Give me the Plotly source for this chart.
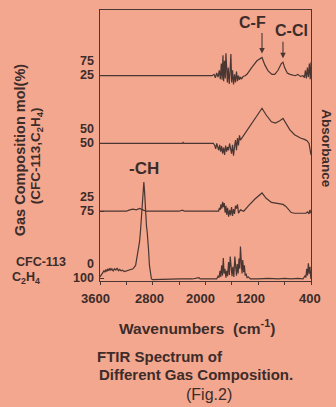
import plotly.graph_objects as go

# ---------------- data ----------------
# composition labels (CFC-113 %, C2H4 %) for each spectrum, top to bottom
cfc113_pct = ["75", "50", "25", "0"]
c2h4_pct = ["25", "50", "75", "100"]

x_ticks = [3600, 2800, 2000, 1200, 400]

# spectrum 1: CFC-113 75 / C2H4 25
wn_1 = [3600, 2300, 2250, 2200, 1900, 1870, 1850, 1830, 1810, 1790, 1775, 1760, 1748, 1735, 1725,
        1712, 1700, 1690, 1680, 1668, 1655, 1640, 1628, 1615, 1603, 1590, 1575, 1560, 1545, 1530,
        1515, 1500, 1485, 1470, 1455, 1430, 1400, 1371, 1300, 1220, 1143, 1100, 1050, 992, 950,
        900, 850, 825, 800, 760, 719, 680, 640, 600, 560, 520, 500, 485, 470, 455, 440, 425, 412, 400]
ab_1 = [0, 0, 0.01, 0, 0, 0.02, -0.03, 0.04, -0.02, 0.08, -0.05, 0.18, -0.06, 0.30, -0.08,
        0.22, -0.04, 0.33, 0.05, -0.10, 0.12, -0.12, 0.05, 0.32, -0.10, 0.08, -0.13, 0.02, -0.10, 0.06,
        -0.08, 0.0, -0.06, -0.02, -0.05, -0.01, 0.0, 0.02, 0.12, 0.22, 0.27, 0.16, 0.07, 0.02, 0.02,
        0.08, 0.18, 0.20, 0.12, 0.04, 0.02, 0.01, 0.0, 0.02, -0.01, 0.0, -0.03, 0.08, -0.04, 0.12, -0.02, 0.18, -0.05, 0.20]

# spectrum 2: CFC-113 50 / C2H4 50
wn_2 = [3600, 2350, 2340, 2330, 1880, 1860, 1845, 1830, 1815, 1800, 1785, 1770, 1755, 1740, 1725,
        1710, 1695, 1680, 1665, 1650, 1635, 1620, 1605, 1590, 1575, 1560, 1545, 1530, 1515, 1500,
        1485, 1470, 1400, 1300, 1220, 1143, 1080, 1000, 940, 880, 825, 780, 720, 650, 560, 500,
        460, 430, 415, 400]
ab_2 = [0, 0, 0.015, 0, 0, -0.03, -0.08, 0.0, -0.05, -0.10, -0.02, -0.12, -0.04, -0.15, -0.06,
        -0.17, -0.03, -0.12, -0.05, -0.10, 0.0, -0.06, -0.15, -0.02, -0.18, -0.05, 0.05, -0.10, 0.08, -0.03,
        0.12, 0.05, 0.15, 0.30, 0.42, 0.52, 0.42, 0.32, 0.30, 0.33, 0.37, 0.30, 0.20, 0.13, 0.08, 0.06,
        0.04, 0.0, -0.10, -0.17]

# spectrum 3: CFC-113 25 / C2H4 75
wn_3 = [3600, 3200, 3150, 3100, 3050, 3000, 2950, 2900, 2400, 2350, 2320, 1800, 1790, 1778, 1765,
        1752, 1740, 1728, 1715, 1703, 1690, 1678, 1665, 1650, 1635, 1620, 1605, 1590, 1575, 1560,
        1545, 1530, 1515, 1500, 1470, 1420, 1350, 1250, 1143, 1080, 1000, 950, 880, 825, 780,
        730, 700, 650, 600, 520, 480, 450, 430, 415, 400]
ab_3 = [0, 0, 0.02, 0.03, 0.02, 0.04, 0.02, 0, 0, 0.015, 0, 0, 0.05, 0.02, 0.10,
        0.04, 0.14, 0.06, 0.12, -0.02, 0.08, -0.05, 0.05, -0.08, 0.02, -0.06, 0.06, -0.07, 0.03, -0.04,
        0.08, 0.04, 0.10, -0.03, 0.02, 0.0, 0.08, 0.18, 0.27, 0.19, 0.13, 0.12, 0.11, 0.10, 0.07,
        0.02, -0.02, -0.03, -0.03, -0.02, -0.03, -0.01, -0.04, 0.02, -0.03]

# spectrum 4: CFC-113 0 / C2H4 100
wn_4 = [3600, 3580, 3560, 3540, 3525, 3510, 3495, 3480, 3465, 3450, 3435, 3420, 3400, 3380, 3360,
        3340, 3320, 3300, 3280, 3260, 3230, 3200, 3150, 3100, 3060, 3040, 3020, 3000, 2985, 2970,
        2955, 2945, 2935, 2925, 2915, 2905, 2895, 2885, 2875, 2865, 2850, 2835, 2820, 2800, 2600,
        2400, 2390, 2200, 2100, 2080, 1830, 1810, 1795, 1780, 1768, 1755, 1742, 1730, 1718, 1705,
        1690, 1678, 1665, 1650, 1638, 1625, 1612, 1598, 1585, 1570, 1555, 1542, 1530, 1518, 1505,
        1492, 1480, 1470, 1458, 1446, 1435, 1422, 1410, 1398, 1385, 1370, 1350, 1320, 1200, 1050,
        900, 800, 700, 600, 520, 490, 478, 465, 452, 440, 428, 415, 405, 400]
ab_4 = [0.03, 0.06, 0.09, 0.12, 0.10, 0.14, 0.11, 0.15, 0.12, 0.16, 0.13, 0.15, 0.12, 0.15, 0.13,
        0.16, 0.12, 0.14, 0.12, 0.13, 0.11, 0.12, 0.13, 0.15, 0.20, 0.30, 0.42, 0.55, 0.72, 0.95,
        1.20, 1.38, 1.43, 1.30, 1.05, 0.90, 0.78, 0.70, 0.62, 0.45, 0.20, 0.05, 0.0, -0.01, 0.0,
        0.01, 0.0, 0.0, 0.02, 0.0, 0.0, 0.04, 0.02, 0.12, 0.03, 0.20, 0.05, 0.31, 0.08, 0.15,
        0.02, 0.12, 0.04, 0.25, 0.06, 0.33, 0.10, 0.04, 0.18, 0.03, 0.33, 0.12, 0.05, 0.22, 0.08,
        0.30, 0.15, 0.48, 0.20, 0.08, 0.28, 0.10, 0.20, 0.05, 0.08, 0.02, 0.03, 0.0, 0.0, 0.01,
        0.0, 0.01, 0.0, 0.01, 0.0, 0.05, 0.02, 0.15, 0.05, 0.23, 0.08, 0.18, 0.03, 0.0]

spectra = [(wn_1, ab_1), (wn_2, ab_2), (wn_3, ab_3), (wn_4, ab_4)]

# ---------------- styling ----------------
BG = "#F2A78E"
INK = "#3d2c2a"
LINE = "#4a3632"
FONT = "Arial, Liberation Sans, sans-serif"

W, H = 336, 407
L, T = 100, 9.5
R = W - 311
B = H - 281
PW, PH = W - L - R, H - T - B


def px(xpix):
    """picture pixel x -> paper x"""
    return (xpix - L) / PW


def py(ypix):
    """picture pixel y -> paper y"""
    return (H - B - ypix) / PH


n = len(spectra)
fig = go.Figure()
for i, (wn, ab) in enumerate(spectra):
    offset = n - 1 - i
    fig.add_trace(go.Scatter(x=wn, y=[a + offset for a in ab], mode="lines",
                             line=dict(color=LINE, width=1.2), showlegend=False,
                             hoverinfo="skip"))

ann = []
# composition labels at left
for i in range(n):
    offset = n - 1 - i
    ann.append(dict(x=px(96), xref="paper", y=offset, yref="y", yshift=14.5,
                    text=f"<b>{cfc113_pct[i]}</b>", showarrow=False, xanchor="right",
                    yanchor="middle", font=dict(size=12.5, color=INK, family=FONT)))
    ann.append(dict(x=px(96), xref="paper", y=offset, yref="y", yshift=0.5,
                    text=f"<b>{c2h4_pct[i]}</b>", showarrow=False, xanchor="right",
                    yanchor="middle", font=dict(size=12.5, color=INK, family=FONT)))
ann.append(dict(x=px(41), xref="paper", y=0, yref="y", yshift=16.5, text="<b>CFC-113</b>",
                showarrow=False, xanchor="center", yanchor="middle",
                font=dict(size=12.5, color=INK, family=FONT)))
ann.append(dict(x=px(26), xref="paper", y=0, yref="y", yshift=0.5, text="<b>C<sub>2</sub>H<sub>4</sub></b>",
                showarrow=False, xanchor="center", yanchor="middle",
                font=dict(size=12.5, color=INK, family=FONT)))

# x tick labels (slight pixel offsets as printed)
tick_shift = [-5, -3, -5, -8, -1]
for v, s in zip(x_ticks, tick_shift):
    ann.append(dict(x=v, xref="x", y=py(299), yref="paper", xshift=s, text=f"<b>{v}</b>",
                    showarrow=False, xanchor="center", yanchor="middle",
                    font=dict(size=13, color=INK, family=FONT)))

# axis titles and captions
ann += [
    dict(x=px(197), xref="paper", y=py(327), yref="paper",
         text="<b>Wavenumbers  (cm<sup>-1</sup>)</b>", showarrow=False,
         xanchor="center", yanchor="middle", font=dict(size=15.5, color=INK, family=FONT)),
    dict(x=px(95), xref="paper", y=py(357), yref="paper", text="<b>FTIR Spectrum of</b>",
         showarrow=False, xanchor="left", yanchor="middle", font=dict(size=15, color=INK, family=FONT)),
    dict(x=px(97), xref="paper", y=py(375), yref="paper", text="<b>Different Gas Composition.</b>",
         showarrow=False, xanchor="left", yanchor="middle", font=dict(size=15, color=INK, family=FONT)),
    dict(x=px(209), xref="paper", y=py(395), yref="paper", text="(Fig.2)",
         showarrow=False, xanchor="center", yanchor="middle", font=dict(size=16, color=INK, family=FONT)),
    dict(x=px(20), xref="paper", y=py(150), yref="paper", text="<b>Gas Composition mol(%)</b>",
         textangle=-90, showarrow=False, xanchor="center", yanchor="middle",
         font=dict(size=14.5, color=INK, family=FONT)),
    dict(x=px(36), xref="paper", y=py(156), yref="paper",
         text="<b>(CFC-113,C<sub>2</sub>H<sub>4</sub>)</b>",
         textangle=-90, showarrow=False, xanchor="center", yanchor="middle",
         font=dict(size=13.5, color=INK, family=FONT)),
    dict(x=px(327), xref="paper", y=py(148), yref="paper", text="<b>Absorbance</b>",
         textangle=90, showarrow=False, xanchor="center", yanchor="middle",
         font=dict(size=13.5, color=INK, family=FONT)),
    # peak labels
    dict(x=px(144), xref="paper", y=py(168), yref="paper", text="<b>-CH</b>",
         showarrow=False, xanchor="center", yanchor="middle", font=dict(size=17, color=INK, family=FONT)),
    dict(x=px(252), xref="paper", y=py(22), yref="paper", text="<b>C-F</b>",
         showarrow=False, xanchor="center", yanchor="middle", font=dict(size=16, color=INK, family=FONT)),
    dict(x=px(291), xref="paper", y=py(30), yref="paper", text="<b>C-Cl</b>",
         showarrow=False, xanchor="center", yanchor="middle", font=dict(size=16, color=INK, family=FONT)),
    # arrows to C-F and C-Cl peaks of the top spectrum
    dict(x=1143, y=3 + 0.27, xref="x", yref="y", text="", showarrow=True, ax=0, ay=-26,
         arrowhead=2, arrowsize=1, arrowwidth=1.1, arrowcolor=LINE, standoff=4),
    dict(x=825, y=3 + 0.20, xref="x", yref="y", text="", showarrow=True, ax=0, ay=-22,
         arrowhead=2, arrowsize=1, arrowwidth=1.1, arrowcolor=LINE, standoff=4),
]

fig.update_layout(
    width=W, height=H,
    margin=dict(l=L, r=R, t=T, b=B, pad=0),
    paper_bgcolor=BG, plot_bgcolor=BG,
    annotations=ann,
    showlegend=False,
)
fig.update_xaxes(range=[3600, 400], tickvals=list(range(3600, 399, -400)), showticklabels=False,
                 ticks="outside", ticklen=3, tickcolor=LINE, showline=True, mirror=True,
                 linecolor=LINE, linewidth=1.3, showgrid=False, zeroline=False)
fig.update_yaxes(range=[-0.03, 3.97], tickvals=[0, 1, 2, 3], showticklabels=False,
                 ticks="inside", ticklen=4, tickcolor=LINE, showline=True, mirror=True,
                 linecolor=LINE, linewidth=1.3, showgrid=False, zeroline=False)

# remove the default page margin so the figure fills the window exactly
fig.write_html("out.html", config={"displayModeBar": False},
               post_script="document.body.style.margin='0';document.body.style.overflow='hidden';")
